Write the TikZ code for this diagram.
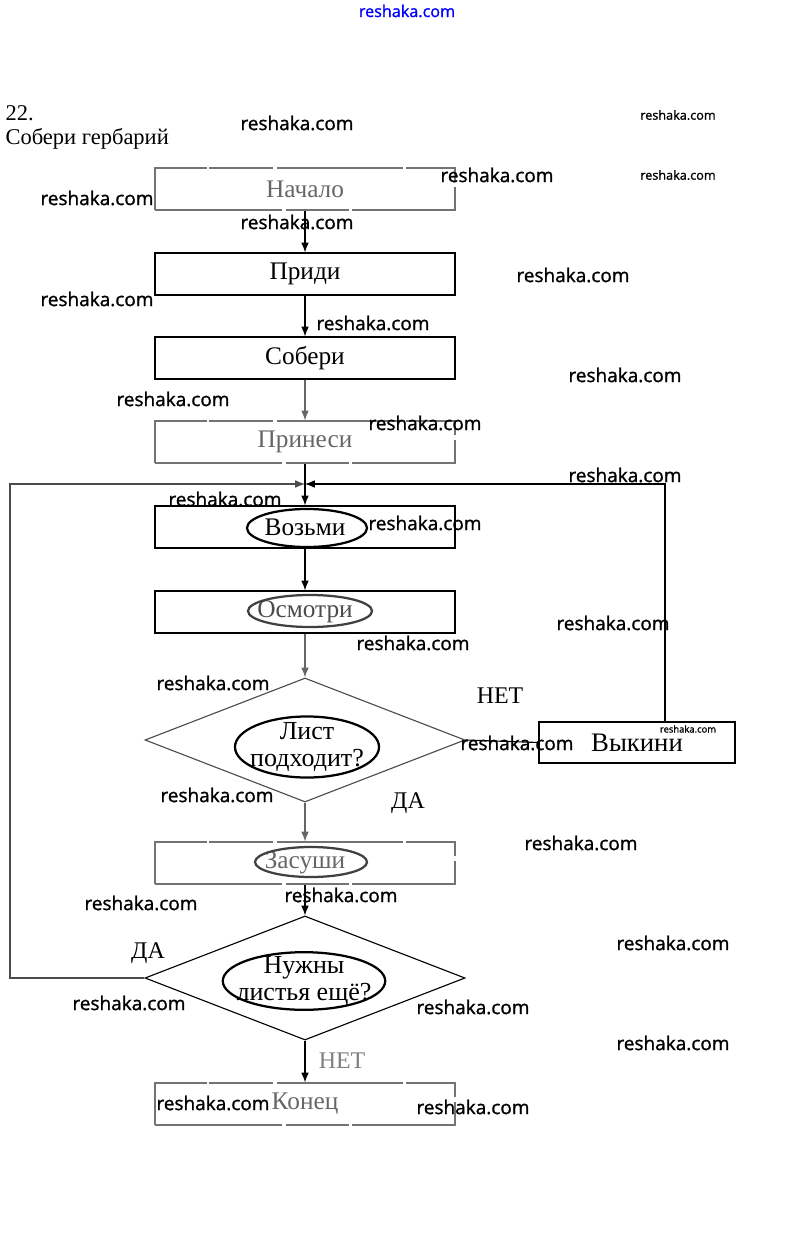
\documentclass[tikz,border=0pt]{standalone}
\usepackage{fontspec}
\setmainfont{Liberation Serif}
\newfontfamily\wmfont[FakeBold=1.2]{Open Sans}
\usetikzlibrary{shapes.geometric,arrows.meta}

\tikzset{
	blk/.style={draw, minimum width=7.5cm, minimum height=1.05cm, inner sep=0pt, font=\fontsize{18}{20}\selectfont},
	faded/.style={draw=black!55, text=black!60, dash pattern=on 90pt off 3pt on 45pt off 2pt},
	cond/.style={draw=black!70, diamond, minimum width=8cm, minimum height=3.1cm, inner sep=0pt},
	ring/.style={line width=1.6pt},
	ask/.style={draw, ellipse, line width=1.6pt, align=center, font=\fontsize{18.5}{19}\selectfont},
	lbl/.style={font=\fontsize{17}{19}\selectfont},
	wm/.style={font=\wmfont\fontsize{13.5}{15}\selectfont, inner sep=0pt},
}

\begin{document}
\begin{tikzpicture}[x=0.025cm, y=-0.025cm, line width=0.8pt, >={Latex[length=7pt,width=5.5pt]}]
	\useasboundingbox (0,0) rectangle (811,1246);
	% heading
	\node[anchor=west, inner sep=0pt, font=\fontsize{16}{18}\selectfont] (num) at (5,113) {22.};
	\node[anchor=west, inner sep=0pt, font=\fontsize{16}{18}\selectfont] (title) at (5,139) {Собери гербарий};
	% steps
	\node[blk, faded] (start) at (305,189) {Начало};
	\node[blk] (come) at (305,274) {Приди};
	\node[blk] (gather) at (305,358) {Собери};
	\node[blk, faded] (bring) at (305,442) {Принеси};
	\node[blk] (take) at (305,527) {Возьми};
	\node[blk, text=black!70] (look) at (305,612) {Осмотри};
	\node[cond] (fit) at (305,740) {};
	\node[ask, inner xsep=-6pt, inner ysep=-2pt, minimum width=3.6cm, minimum height=1.5cm] (fitq) at (307,747) {Лист\\подходит?};
	\node[blk, minimum width=4.9cm, minimum height=1.025cm, font=\fontsize{19}{21}\selectfont] (throw) at (637,742.5) {Выкини};
	\node[blk, faded] (dry) at (305,863) {Засуши};
	\node[cond, draw=black] (more) at (305,978) {};
	\node[ask, inner xsep=-9pt, inner ysep=-3pt, minimum width=4.06cm, minimum height=1.44cm] (moreq) at (304,981) {Нужны\\листья ещё?};
	\node[blk, faded] (stop) at (305,1104) {Конец};
	% ovals in the boxes
	\draw[ring] (307,528) ellipse (1.5cm and 0.475cm);
	\draw[ring, draw=black!75] (310,611) ellipse (1.55cm and 0.4cm);
	\draw[ring, draw=black!75] (311,862) ellipse (1.4cm and 0.375cm);
	% corners of the loops
	\coordinate (join) at (305,484);
	\coordinate (lc1) at (10,978);
	\coordinate (lc2) at (10,484);
	\coordinate (rc) at (665,484);
	% arrows
	\draw[->] (start) -- (come);
	\draw[->] (come) -- (gather);
	\draw[->, black!60] (gather) -- (bring);
	\draw[->] (bring) -- (take);
	\draw[->] (take) -- (look);
	\draw[->, black!60] (look) -- (fit);
	\draw (fit.east) -- (throw.west);
	\draw[->] (throw.north -| rc) -- (rc) -- (join);
	\draw[->, black!60] (fit) -- (dry);
	\draw[->] (dry) -- (more);
	\draw[->, black!70] (more.west) -- (lc1) -- (lc2) -- (join);
	\draw[->] (more) -- (stop);
	% labels
	\node[lbl] (no1) at (500,696) {НЕТ};
	\node[lbl] (yes1) at (408,803) {ДА};
	\node[lbl] (yes2) at (148,953) {ДА};
	\node[lbl, text=black!50] (no2) at (342,1061) {НЕТ};
	% watermarks
	\node[wm, text=blue, font=\wmfont\fontsize{11.5}{13}\selectfont] (wmtop) at (407,11) {reshaka.com};
	\foreach \x/\y [count=\i] in {297/123, 497/175, 97/198, 297/222, 573/275, 97/299, 373/323, 625/375, 173/399, 425/423, 625/475, 225/499, 425/523, 613/623, 413/643, 213/683, 517/743, 217/795, 581/843, 341/895, 141/903, 673/943, 129/1003, 473/1007, 673/1043, 213/1103, 473/1107}
		\node[wm] (wm\i) at (\x,\y) {reshaka.com};
	\node[wm, font=\wmfont\fontsize{9}{10}\selectfont] (wms1) at (678,115) {reshaka.com};
	\node[wm, font=\wmfont\fontsize{9}{10}\selectfont] (wms2) at (678,175) {reshaka.com};
	\node[wm, font=\wmfont\fontsize{6.7}{8}\selectfont] (wms3) at (688,729) {reshaka.com};
\end{tikzpicture}
\end{document}
